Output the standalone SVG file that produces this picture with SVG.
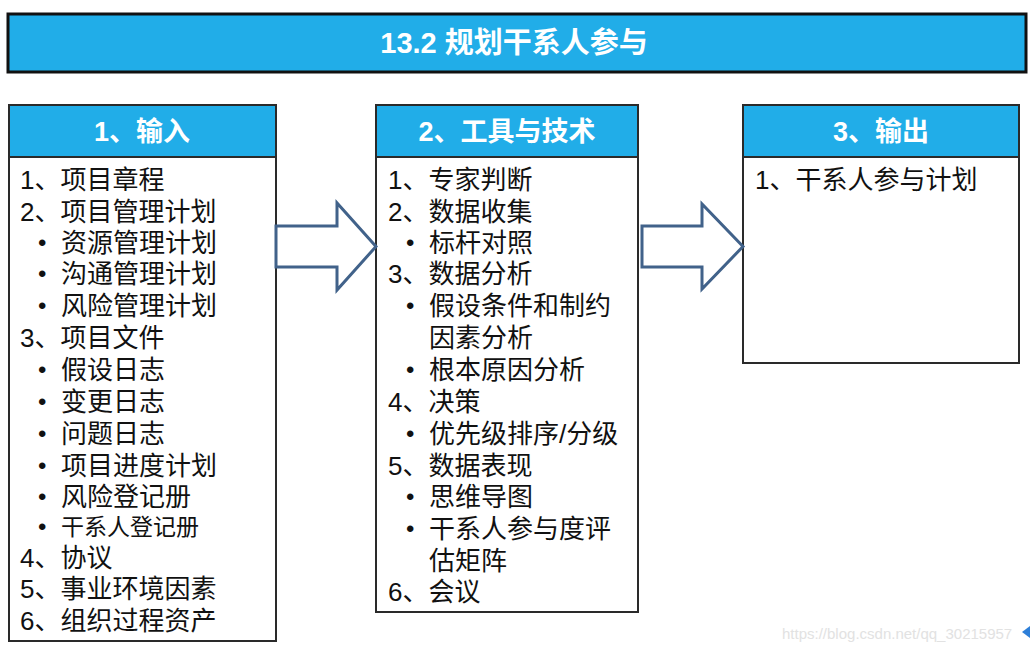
<svg xmlns="http://www.w3.org/2000/svg" width="1034" height="652" viewBox="0 0 1034 652">
<style>
.hdr{fill:#21ADE8;stroke:#2a2a2a;stroke-width:2}
.body{fill:#fff;stroke:#2a2a2a;stroke-width:2}
.ht{font-family:"Liberation Sans","Noto Sans CJK SC",sans-serif;font-weight:bold;fill:#fff;text-anchor:middle}
.t{font-family:"Liberation Sans","Noto Sans CJK SC",sans-serif;font-size:26px;fill:#111}
.b{font-family:"Liberation Sans",sans-serif;font-size:24px}
.arr{fill:#fff;stroke:#41628A;stroke-width:3;stroke-linejoin:miter}
</style>
<rect width="1034" height="652" fill="#fff"/>
<g id="title">
<rect x="8" y="14" width="1018" height="58" fill="#21ADE8" stroke="#111" stroke-width="3"/>
<text class="ht" x="514" y="53" font-size="29">13.2 规划干系人参与</text>
</g>
<g id="input">
<rect class="body" x="9" y="157" width="267" height="484"/>
<rect class="hdr" x="9" y="105" width="267" height="52"/>
<text class="ht" x="142" y="141" font-size="27">1、输入</text>
<text class="t"><tspan x="20" y="189">1、项目章程</tspan><tspan x="20" y="221">2、项目管理计划</tspan><tspan class="b" x="38" y="251">•</tspan><tspan x="61" y="252">资源管理计划</tspan><tspan class="b" x="38" y="282">•</tspan><tspan x="61" y="283">沟通管理计划</tspan><tspan class="b" x="38" y="314">•</tspan><tspan x="61" y="315">风险管理计划</tspan><tspan x="20" y="347">3、项目文件</tspan><tspan class="b" x="38" y="378">•</tspan><tspan x="61" y="379">假设日志</tspan><tspan class="b" x="38" y="410">•</tspan><tspan x="61" y="411">变更日志</tspan><tspan class="b" x="38" y="442">•</tspan><tspan x="61" y="443">问题日志</tspan><tspan class="b" x="38" y="474">•</tspan><tspan x="61" y="475">项目进度计划</tspan><tspan class="b" x="38" y="505">•</tspan><tspan x="61" y="506">风险登记册</tspan><tspan class="b" x="38" y="535">•</tspan><tspan x="61" y="535" font-size="23">干系人登记册</tspan><tspan x="20" y="567">4、协议</tspan><tspan x="20" y="598">5、事业环境因素</tspan><tspan x="20" y="630">6、组织过程资产</tspan></text>
</g>
<g id="tools">
<rect class="body" x="376" y="157" width="262" height="455"/>
<rect class="hdr" x="376" y="105" width="262" height="52"/>
<text class="ht" x="507" y="141" font-size="27">2、工具与技术</text>
<text class="t"><tspan x="388" y="189">1、专家判断</tspan><tspan x="388" y="221">2、数据收集</tspan><tspan class="b" x="406" y="251">•</tspan><tspan x="429" y="252">标杆对照</tspan><tspan x="388" y="283">3、数据分析</tspan><tspan class="b" x="406" y="314">•</tspan><tspan x="429" y="315">假设条件和制约</tspan><tspan x="429" y="347">因素分析</tspan><tspan class="b" x="406" y="378">•</tspan><tspan x="429" y="379">根本原因分析</tspan><tspan x="388" y="411">4、决策</tspan><tspan class="b" x="406" y="442">•</tspan><tspan x="429" y="443">优先级排序/分级</tspan><tspan x="388" y="475">5、数据表现</tspan><tspan class="b" x="406" y="505">•</tspan><tspan x="429" y="506">思维导图</tspan><tspan class="b" x="406" y="537">•</tspan><tspan x="429" y="538">干系人参与度评</tspan><tspan x="429" y="570">估矩阵</tspan><tspan x="388" y="601">6、会议</tspan></text>
</g>
<g id="output">
<rect class="body" x="743" y="157" width="276" height="206"/>
<rect class="hdr" x="743" y="105" width="276" height="52"/>
<text class="ht" x="881" y="141" font-size="27">3、输出</text>
<text class="t" x="755" y="189">1、干系人参与计划</text>
</g>
<g id="connectors">
<polygon class="arr" points="276,226 337,226 337,203 376,246.5 337,290 337,267 276,267"/>
<polygon class="arr" points="642,226 702,226 702,204 743,246.5 702,289 702,267 642,267"/>
</g>
<g id="watermark">
<text x="782" y="639" font-family="Liberation Sans,sans-serif" font-size="15" fill="#e2e2e2">https://blog.csdn.net/qq_30215957</text>
<polygon points="1022,632 1030,626 1030,638" fill="#2e7fd8"/>
</g>
</svg>
